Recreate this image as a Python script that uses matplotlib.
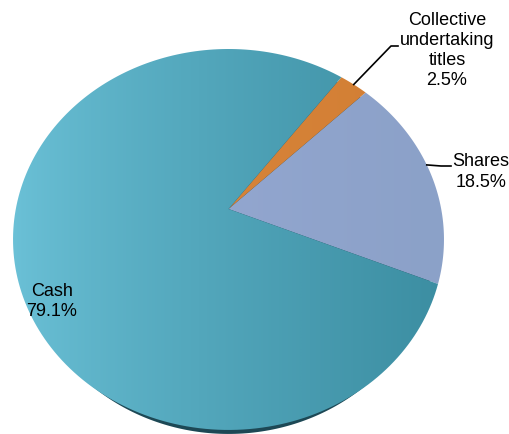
import numpy as np
import matplotlib.pyplot as plt
from matplotlib.colors import LinearSegmentedColormap
from matplotlib.patches import Polygon

# data
categories = ["Shares", "Collective\nundertaking\ntitles", "Cash"]
shares_pct = [18.5, 2.5, 79.1]
colors_left = ["#9CACD8", "#DC8A3E", "#6BC1D7"]
colors_right = ["#8BA1C8", "#D27E34", "#3C8EA2"]

plt.rcParams["font.family"] = ["Liberation Sans", "DejaVu Sans"]

W, H = 509, 434
fig = plt.figure(figsize=(W / 100, H / 100), dpi=100)
ax = fig.add_axes([0, 0, 1, 1])
ax.set_xlim(0, W)
ax.set_ylim(H, 0)
ax.axis("off")

# tilted disc seen in perspective
cx, cy, A, B, k = 228.5, 209.0, 212.7, 185.6, 0.16
start = -22.3


def project(t_deg, a=A):
    t = np.radians(t_deg)
    w = 1 + k * np.sin(t)
    return cx + a * np.cos(t) / w, cy - B * np.sin(t) / w


# shadow below the disc
tt = np.linspace(0, 360, 400)
sx, sy = project(tt, A * 0.955)
ax.add_patch(Polygon(np.column_stack([sx, sy + 4]), closed=True,
                     facecolor="#1D4855", edgecolor="none", zorder=1))

total = sum(shares_pct)
angles = start + np.concatenate([[0], np.cumsum(shares_pct)]) / total * 360
xs_all, ys_all = project(tt)
x0, x1 = xs_all.min(), xs_all.max()
y0, y1 = ys_all.min(), ys_all.max()
grad = np.linspace(0, 1, 256)[None, :] ** 0.8 * np.ones((8, 1))

mids = []
for i in range(len(shares_pct)):
    a0, a1 = angles[i], angles[i + 1]
    arc = np.linspace(a0, a1, 200)
    px, py = project(arc)
    verts = np.column_stack([np.r_[cx, px], np.r_[cy, py]])
    poly = Polygon(verts, closed=True, facecolor="none", edgecolor="none")
    ax.add_patch(poly)
    cmap = LinearSegmentedColormap.from_list("g%d" % i, [colors_left[i], colors_right[i]])
    im = ax.imshow(grad, cmap=cmap, extent=[x0, x1, y1 + 2, y0 - 2],
                   aspect="auto", zorder=2, interpolation="bilinear")
    im.set_clip_path(poly)
    mids.append((a0 + a1) / 2)

ax.set_xlim(0, W)
ax.set_ylim(H, 0)

fs = 13
ls = 1.24
# Collective undertaking titles
lx, ly = project(mids[1])
ax.plot([lx, 391, 398], [ly, 46, 46], color="black", lw=1.2, zorder=3)
ax.text(447, 50.5, "%s\n%.1f%%" % (categories[1], shares_pct[1]), ha="center",
        va="center", fontsize=fs, linespacing=ls, zorder=4)

# Shares
lx, ly = project(angles[0] + 0.55 * (angles[1] - angles[0]))
ax.plot([lx, 441, 451], [ly, 166, 166], color="black", lw=1.2, zorder=3)
ax.text(481, 172, "%s\n%.1f%%" % (categories[0], shares_pct[0]), ha="center",
        va="center", fontsize=fs, linespacing=ls, zorder=4)

# Cash
ax.text(52, 301.5, "%s\n%.1f%%" % (categories[2], shares_pct[2]), ha="center",
        va="center", fontsize=fs, linespacing=ls, zorder=4)

fig.savefig("out.png", dpi=100)
